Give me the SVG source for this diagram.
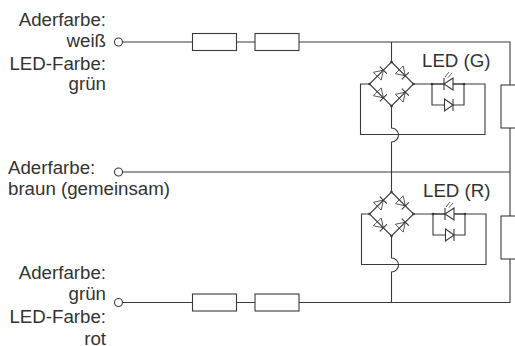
<svg xmlns="http://www.w3.org/2000/svg" width="515" height="346" viewBox="0 0 515 346">
<style>
text{font-family:"Liberation Sans",Arial,sans-serif;font-size:18.7px;fill:#333}
.r{text-anchor:end}
.w{fill:none;stroke:#3a3a3a;stroke-width:1.1}
.b{fill:#fff;stroke:#3a3a3a;stroke-width:1.1}
.d{fill:none;stroke:#3a3a3a;stroke-width:.8}
.n{fill:#3a3a3a}
</style>
<defs>
<g id="diode"><path class="d" d="M4.500 -5.500L-4 0L4.500 5.500Z"/><path class="w" d="M-4 -5V5"/></g>
<g id="bridge">
<path class="w" d="M0 0L22 22L0 44L-22 22Z"/>
<use href="#diode" transform="translate(-11 11) rotate(135)"/>
<use href="#diode" transform="translate(11 11) rotate(225)"/>
<use href="#diode" transform="translate(-11 33) rotate(225)"/>
<use href="#diode" transform="translate(11 33) rotate(135)"/>
<circle class="n" cx="0" cy="0" r="1.300"/><circle class="n" cx="22" cy="22" r="1.300"/><circle class="n" cx="-22" cy="22" r="1.300"/><circle class="n" cx="0" cy="44" r="1.300"/>
</g>
<g id="led">
<path class="w" d="M0 0H32V21H0Z"/>
<path class="b" d="M21 -6L12 0L21 6Z"/>
<path class="w" d="M12 -6V6"/>
<path class="b" d="M12.500 15L21 21L12.500 27Z"/>
<path class="w" d="M21 15V27"/>
<path class="d" d="M13 -7L17 -12M16 -6.500L20 -11"/>
<circle class="n" cx="0" cy="0" r="1.300"/><circle class="n" cx="32" cy="0" r="1.300"/>
</g>
</defs>
<g id="connectors">
<path class="w" d="M122.500 42H510V85M510 128V216M510 259V302.500H122.500M122 172H510"/>
<path class="w" d="M391.500 42V62M391.500 106V128A7 7 0 0 1 391.500 142V192M391.500 236V258A7 7 0 0 1 391.500 272V302.500"/>
<path class="w" d="M369 84H360.500V134.500H485V84H413"/>
<path class="w" d="M369 214H361.500V264.500H486V214H413"/>
</g>
<g id="wire1"><circle class="b" cx="118.500" cy="42" r="4"/></g>
<g id="wire2"><circle class="b" cx="118.500" cy="172" r="4"/></g>
<g id="wire3"><circle class="b" cx="118.500" cy="302.500" r="4"/></g>
<g id="r1"><rect class="b" x="192.500" y="33.500" width="44" height="17"/></g>
<g id="r2"><rect class="b" x="255" y="33.500" width="44" height="17"/></g>
<g id="r3"><rect class="b" x="192.500" y="294" width="44" height="17"/></g>
<g id="r4"><rect class="b" x="255" y="294" width="44" height="17"/></g>
<g id="r5"><rect class="b" x="501" y="85" width="20" height="43"/></g>
<g id="r6"><rect class="b" x="501" y="216" width="20" height="43"/></g>
<g id="bridge-g"><use href="#bridge" x="391.500" y="62"/></g>
<g id="bridge-r"><use href="#bridge" x="391.500" y="192"/></g>
<g id="led-g"><use href="#led" x="432" y="84"/></g>
<g id="led-r"><use href="#led" x="433" y="214"/></g>
<g id="labels">
<text class="r" x="106" y="26">Aderfarbe:</text>
<text class="r" x="106" y="46.500">weiß</text>
<text class="r" x="106" y="70">LED-Farbe:</text>
<text class="r" x="106" y="90">grün</text>
<text x="8" y="174">Aderfarbe:</text>
<text x="8" y="195">braun (gemeinsam)</text>
<text class="r" x="106" y="279">Aderfarbe:</text>
<text class="r" x="106" y="300">grün</text>
<text class="r" x="106" y="323">LED-Farbe:</text>
<text class="r" x="106" y="345">rot</text>
<text x="422" y="66.500">LED (G)</text>
<text x="423" y="196.500">LED (R)</text>
</g>
</svg>
